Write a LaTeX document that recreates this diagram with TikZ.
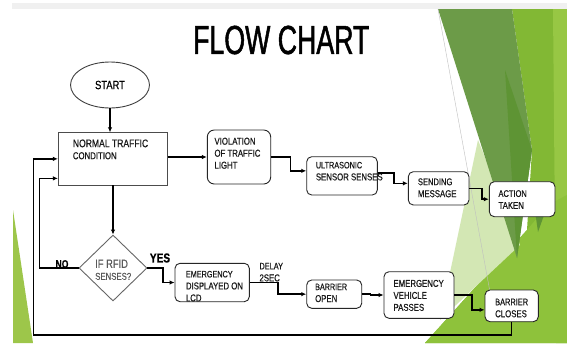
\documentclass[tikz,border=0pt]{standalone}
\usepackage{fontspec}
\setmainfont{Liberation Sans}[FakeStretch=0.78,FakeBold=0.45]
\newfontfamily\titlefont{Liberation Sans}[FakeStretch=0.66,FakeBold=1.2]
\usetikzlibrary{arrows.meta,shapes.geometric,calc}
\definecolor{gdark}{HTML}{6C9B48}
\definecolor{gdeep}{HTML}{5E9434}
\definecolor{gmid}{HTML}{82B834}
\definecolor{gbright}{HTML}{8EC23B}
\definecolor{glight}{HTML}{97C744}
\definecolor{gpale}{HTML}{D3E7B4}
\definecolor{gleft}{HTML}{9DC64A}
\begin{document}
\begin{tikzpicture}[x=1pt,y=-1pt,
  box/.style={draw=black!85, line width=0.9pt, rounded corners=5pt, fill=white, inner sep=0pt},
  txt/.style={anchor=north west, inner sep=0pt, align=left, text=black!90},
  conn/.style={line width=1.5pt, -{Latex[length=5pt,width=4.5pt]}},
  plain/.style={line width=1.5pt}
]
\useasboundingbox (0,0) rectangle (567,343);
\fill[white] (0,0) rectangle (567,343);
% slide background decoration
\fill[black!6] (12,3) rectangle (567,9);
\fill[gmid] (512,9) -- (567,9) -- (567,343) -- (425,343) -- (527,230) -- (532,150) -- cycle;
\fill[glight] (553,9) -- (567,9) -- (567,343) -- (556,343) -- cycle;
\fill[gbright] (425,343) -- (527,230) -- (548,205) -- (567,195) -- (567,343) -- cycle;
\fill[gpale] (478,140) -- (520,245) -- (440,320) -- cycle;
\fill[gdark] (438,9) -- (512,9) -- (532,150) -- (517,258) -- cycle;
\fill[gdeep] (505,70) -- (532,150) -- (517,258) -- cycle;
\fill[gdeep] (532,190) -- (553,190) -- (538,232) -- cycle;
\draw[black!25, line width=0.4pt] (438,9) -- (490,292);
\fill[gleft] (13,210) -- (13,343) -- (33,343) -- cycle;
% title
\node[inner sep=0pt] (title) at (281.25,40) {\titlefont\fontsize{40.5}{40.5}\selectfont FLOW CHART};
% nodes
\node[ellipse, draw=black!75, line width=0.9pt, fill=white, minimum width=79pt, minimum height=46pt, inner sep=0pt] (start) at (110,85) {\fontsize{12}{12}\selectfont START};
\node[draw=black!70, line width=0.8pt, fill=white, minimum width=109pt, minimum height=52.3pt, inner sep=0pt] (normal) at (112.8,158.85) {};
\node[txt] (normal-t) at (72.7,139.3) {\fontsize{11}{11}\selectfont NORMAL TRAFFIC\\CONDITION};
\node[box, rounded corners=7pt, minimum width=63.4pt, minimum height=54pt] (viol) at (239,157) {};
\node[txt] (viol-t) at (214.3,137.5) {\fontsize{10}{9.8}\selectfont VIOLATION\\OF TRAFFIC\\LIGHT};
\node[box, minimum width=70.6pt, minimum height=38.3pt] (ultra) at (342,175.85) {};
\node[txt] (ultra-t) at (315.7,161.7) {\fontsize{9.3}{10}\selectfont ULTRASONIC\\SENSOR SENSES};
\node[box, minimum width=60.7pt, minimum height=33.3pt] (send) at (438.65,188.35) {};
\node[txt] (send-t) at (417.7,178.2) {\fontsize{9.7}{10}\selectfont SENDING\\MESSAGE};
\node[box, minimum width=65.7pt, minimum height=35pt] (action) at (522.15,199.2) {};
\node[txt] (action-t) at (498.3,190) {\fontsize{9.6}{9.4}\selectfont ACTION\\TAKEN};
\node[diamond, draw=black!60, line width=0.9pt, fill=white, minimum width=68pt, minimum height=66pt, inner sep=0pt] (dec) at (113,268) {};
\node[txt, text=black!65] (dec-t) at (95,259.4) {\fontsize{12}{14}\selectfont IF RFID\\SENSES?};
\node[box, minimum width=74.3pt, minimum height=38.4pt] (emerg) at (212.15,282.5) {};
\node[txt] (emerg-t) at (185.7,270.7) {\fontsize{9.3}{10}\selectfont EMERGENCY\\DISPLAYED ON\\LCD};
\node[txt] (delay) at (259.3,262.7) {\fontsize{9.4}{11}\selectfont DELAY\\2SEC};
\node[box, minimum width=55pt, minimum height=28.3pt] (bopen) at (334.2,294.15) {};
\node[txt] (bopen-t) at (315,283.5) {\fontsize{9.2}{9.2}\selectfont BARRIER\\OPEN};
\node[box, minimum width=70pt, minimum height=46.6pt] (evp) at (419,295) {};
\node[txt] (evp-t) at (393.3,279.7) {\fontsize{10}{8.4}\selectfont EMERGENCY\\VEHICLE\\PASSES};
\node[box, minimum width=53.3pt, minimum height=31.7pt] (bclose) at (511.65,305.85) {};
\node[txt] (bclose-t) at (495,298.5) {\fontsize{9.5}{8.4}\selectfont BARRIER\\CLOSES};
\node[inner sep=0pt] (no) at (62,264) {\bfseries\fontsize{11}{11}\selectfont NO};
\node[inner sep=0pt] (yes) at (160,258) {\bfseries\fontsize{13}{13}\selectfont YES};
\coordinate (ret) at (33.3,335);
\coordinate (nocorner) at (39.3,268);
% connectors
\draw[conn] (start.south) -- (start.south |- normal.north);
\draw[conn] (normal.south -| dec.north) -- (dec.north);
\draw[conn] (normal.east |- viol.west) -- (viol.west);
\draw[conn] (viol.east) -- ++(19.3,0) |- ([yshift=5pt]ultra.west);
\draw[conn] ([yshift=3pt]ultra.east) -- ++(16,0) |- ([yshift=5pt]send.west);
\draw[conn] (send.east) -- ++(12.7,0) |- (action.west);
\draw[conn] (dec.east) -- ++(15.6,0) |- (emerg.west);
\draw[conn] (emerg.east) -- ++(28.4,0) |- (bopen.west);
\draw[conn] (bopen.east) -- ++(8.3,0) |- (evp.west);
\draw[conn] (evp.east) -- ++(17.7,0) |- ([yshift=-4pt]bclose.west);
\draw[conn] (bclose.south) |- (ret) |- (normal.west);
\draw[conn] (dec.west) -- (nocorner) |- ([yshift=-19.5pt]normal.west);
\end{tikzpicture}
\end{document}
